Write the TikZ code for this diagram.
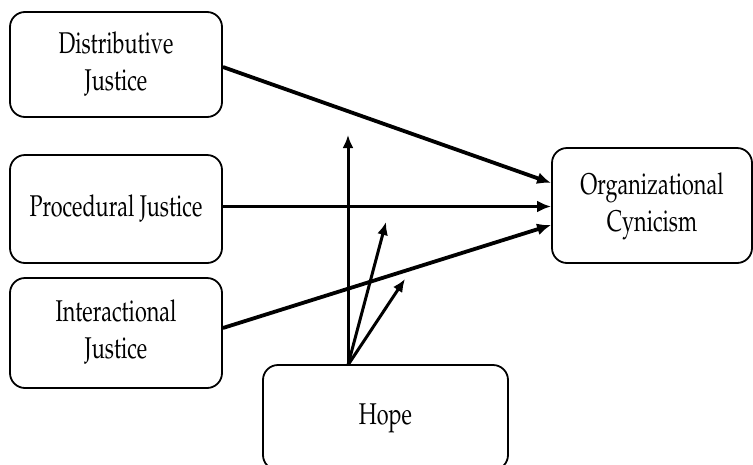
\documentclass[tikz,border=0pt]{standalone}
\usepackage[T1]{fontenc}
\usepackage{mathpazo}
\usepackage{graphicx}
\usepackage{tikz}
\usetikzlibrary{arrows.meta, positioning, calc}
\newcommand{\squeezed}[1]{\scalebox{0.72}[1]{\begin{tabular}{@{}c@{}}#1\end{tabular}}}
\tikzstyle{block} = [draw, rectangle, line width=1.8pt, rounded corners=15pt, align=center, font=\fontsize{30}{37}\selectfont]
\tikzstyle{arrow} = [draw, line width=3.8pt, -{Latex[length=14pt,width=12pt]}]
\tikzstyle{harrow} = [draw, line width=3pt, -{Latex[length=13pt,width=11pt]}]

\begin{document}
\begin{tikzpicture}[x=1pt, y=-1pt]
    \useasboundingbox (0,0) rectangle (753,464);
    \node (dist) [block, minimum width=212pt, minimum height=105pt] at (116,64.5) {\squeezed{Distributive\\Justice}};
    \node (proc) [block, minimum width=212pt, minimum height=108pt] at (116,209) {\squeezed{Procedural Justice}};
    \node (inter) [block, minimum width=212pt, minimum height=110pt] at (116,333) {\squeezed{Interactional\\Justice}};
    \node (cyn) [block, minimum width=200pt, minimum height=115pt] at (652,205.5) {\squeezed{Organizational\\Cynicism}};
    \node (hope) [block, minimum width=245pt, minimum height=105pt] at (385.5,417.5) {\squeezed{Hope}};

    % moderation arrows from Hope
    \coordinate (hs) at (348,365);
    \coordinate (m1) at (348,135);
    \coordinate (m2) at (386,222);
    \coordinate (m3) at (405,279);

    \draw [arrow] ([yshift=-2.5pt]dist.east) -- ([yshift=22.5pt]cyn.west);
    \draw [arrow] ([yshift=2.5pt]proc.east) -- ([yshift=-1pt]cyn.west);
    \draw [arrow] ([yshift=5pt]inter.east) -- ([yshift=-19.5pt]cyn.west);

    \draw [harrow] (hs) -- (m1);
    \draw [harrow] (hs) -- (m2);
    \draw [harrow] (hs) -- (m3);
\end{tikzpicture}
\end{document}
